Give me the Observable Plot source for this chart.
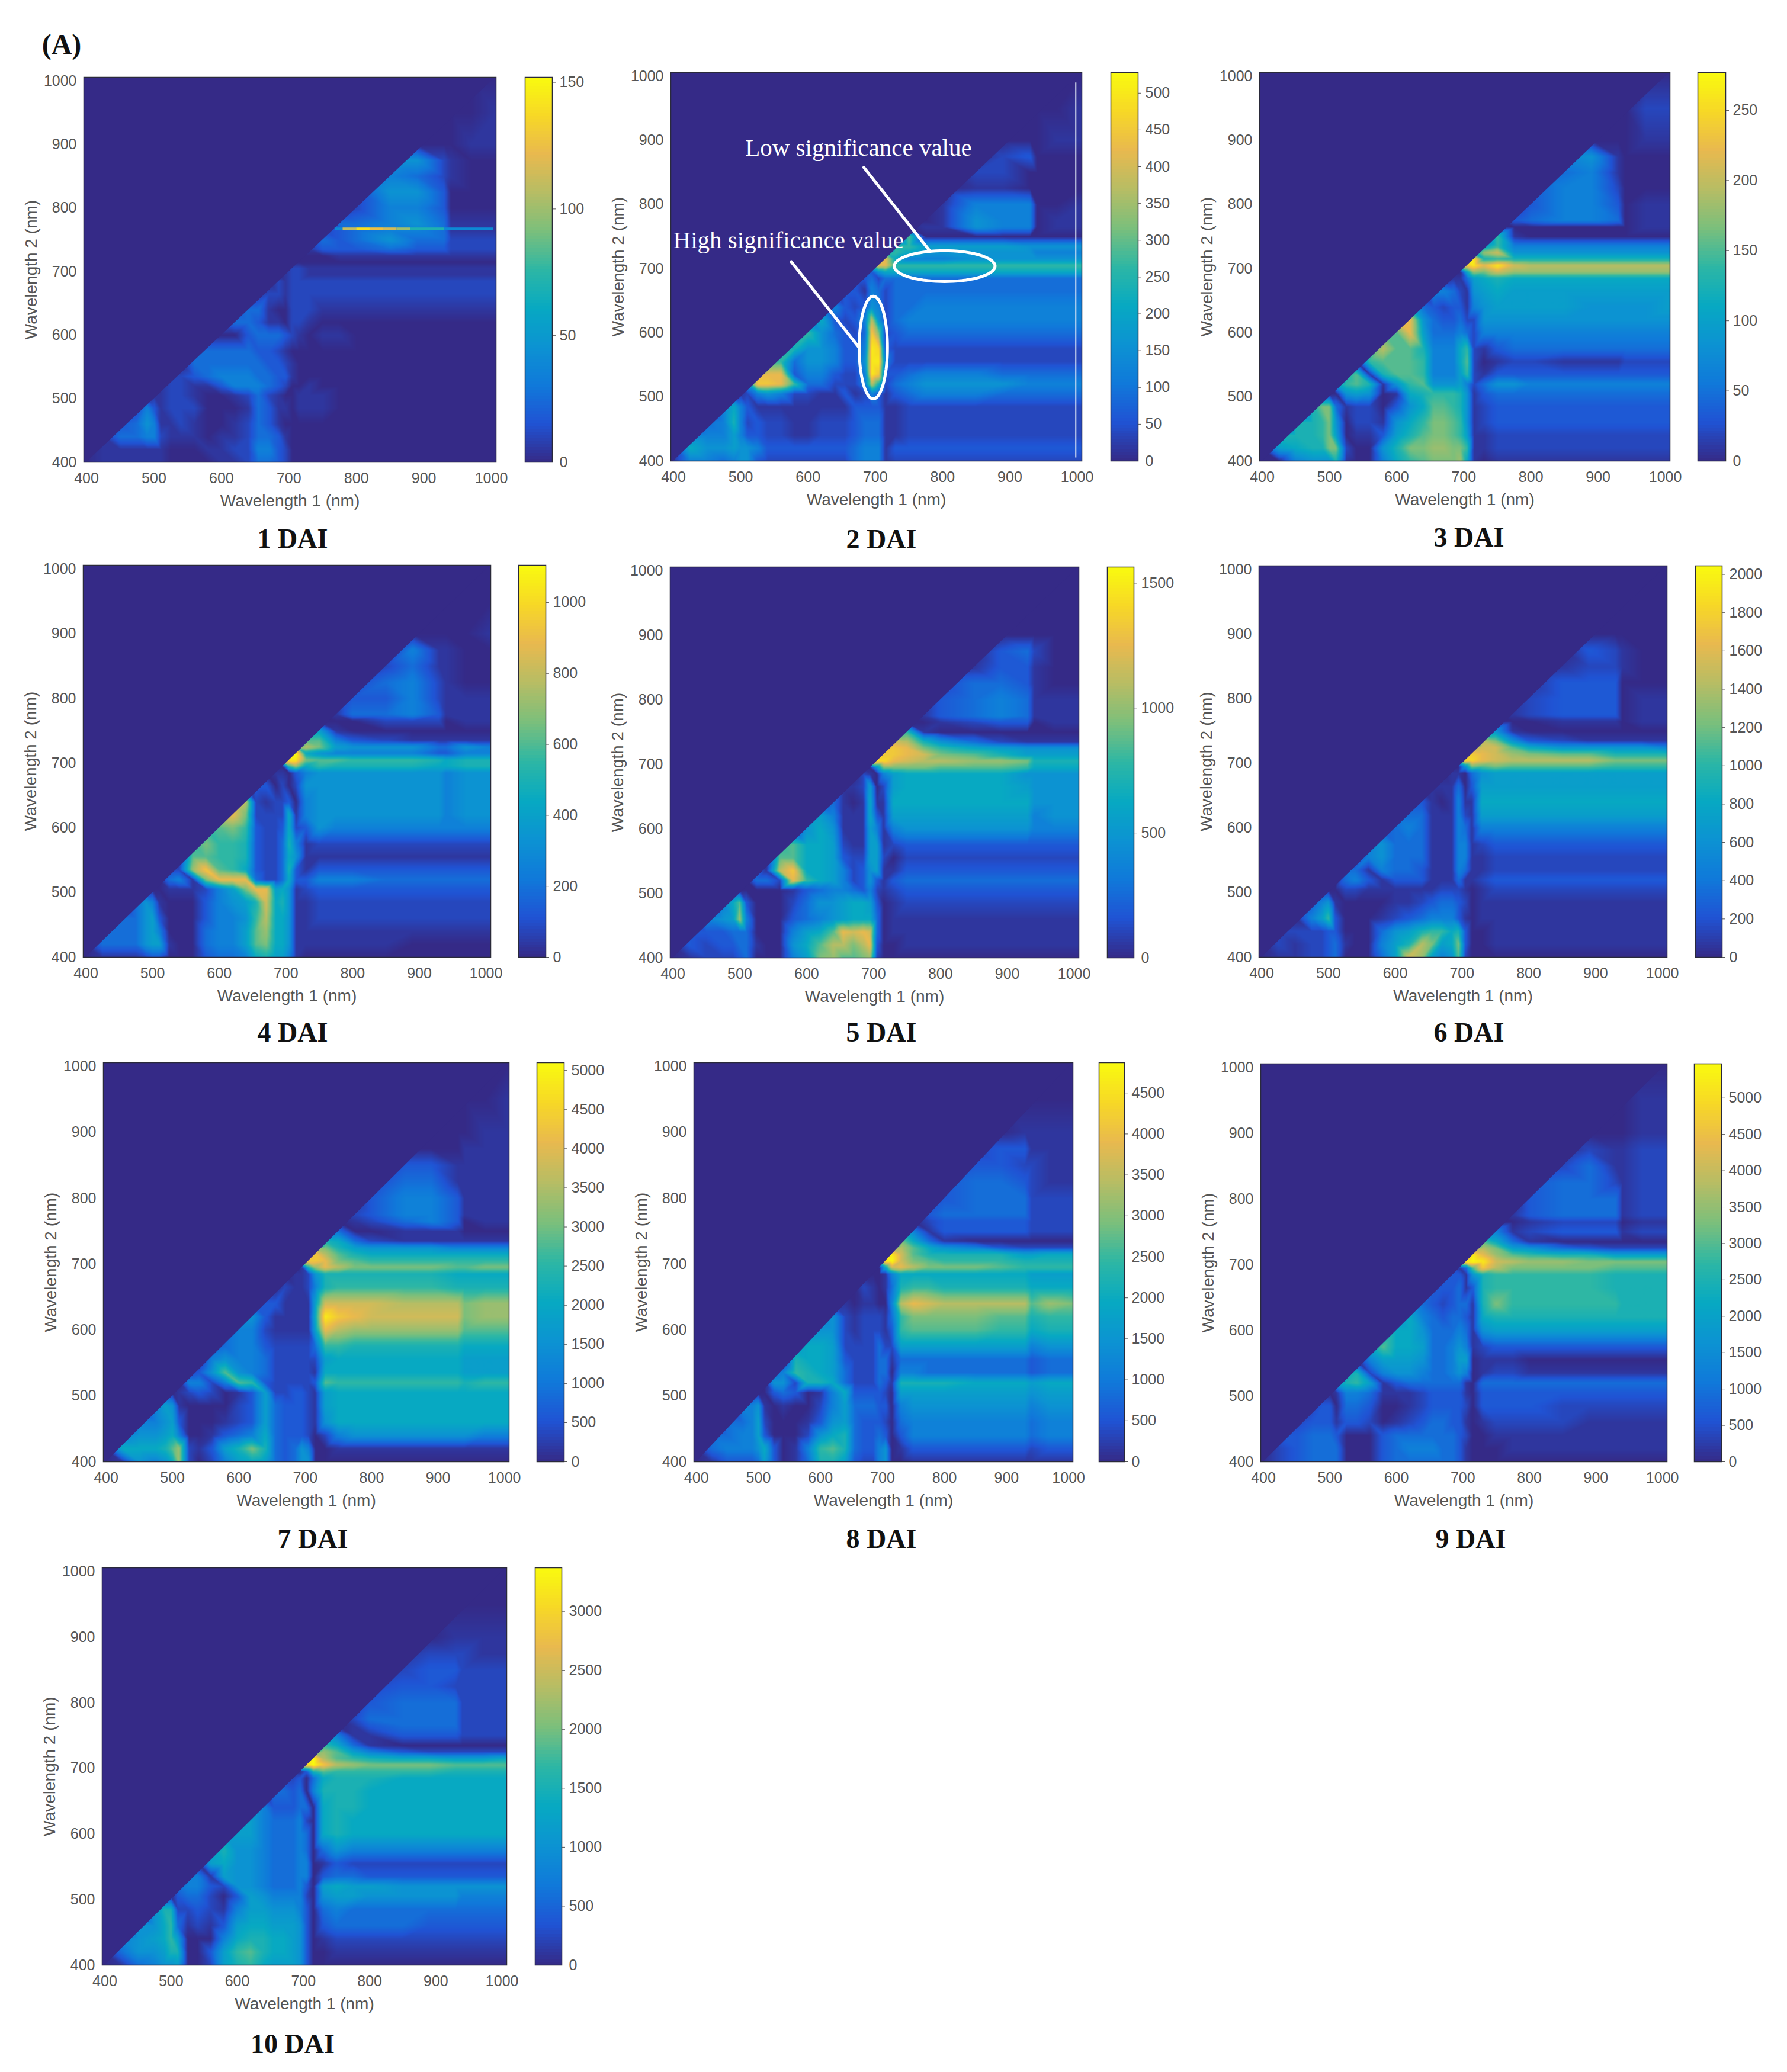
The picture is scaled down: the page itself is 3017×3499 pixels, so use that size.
<!DOCTYPE html>
<html><head><meta charset="utf-8">
<script src="https://cdn.jsdelivr.net/npm/d3@7"></script>
<script src="https://cdn.jsdelivr.net/npm/@observablehq/plot@0.6"></script>
<style>
html,body{margin:0;background:#fff}
#page{position:relative;width:3017px;height:3499px;overflow:hidden;background:#fff}
#page svg{position:absolute;overflow:visible;background:transparent}
.ttl{position:absolute;font-family:"Liberation Serif",serif;font-weight:bold;color:#111;font-size:46px;transform:translate(-50%,-50%);white-space:nowrap}
</style></head><body><div id="page"></div>
<script>
// sampled wavelength grid of the significance maps
const xNodes=[396,425,450,475,490,500,510,525,540,560,580,600,620,640,655,670,685,695,705,715,730,750,775,800,850,890,930,940,970,1007];
const yNodes=[1006,950,900,875,850,825,800,775,765,750,735,725,715,705,695,685,665,640,620,600,575,555,535,520,505,485,460,440,420,400];
// one character per node: its share of that panel's colour-bar maximum
const LEVELS="0123456789abcdefghijk";
const LEVEL_SHARE=[0,.03,.07,.115,.17,.23,.3,.35,.4,.45,.5,.55,.6,.65,.7,.75,.8,.85,.9,.95,1];
const grid1=["","001","00011","662100","3542100","2663000","12553000","144564111","234554111","2434644222","1333433222","00011111111","0","1221111111111","01221111111111","021222222222222","1221222222222222","344100222111111111","3443110221000000000","34443210110000000","444443321000000000000","0444444332100000000000","22345554433100000000000","122113555432001000000000","1122100124210011100000000","253122200014311011100000000","3465112100124310000000000000","14455211101124431000000000000","011111100011225532000000000000","011111100001124432000000000000"];
const grid2=["","001","00011","023000","0220000","0110000","01555001","001655011","011655011","2b00000000","aa77776666","aa866666555","fg8555666666","bggaaaaaaaaaa","33688888888888","334244444444444","3315424444444444","553236524455555555","583235e624555555555","8a64324hc23444444444","99665335ji32222222222","aa4665336jj52222222222","ggg3553225jh33455544444","6hhga442225e924566665555","1256522113125313455544444","585311111111333311222222222","4595232211222344411222222222","55575332211222344411222222222","086676653333333455513333333333","055456632222222455512222222222"];
const grid3=["","022","00011","561000","3451000","3552000","13553011","034554011","000000011","3a10000000","7a55555555","7df66666666","jj9a99999999","fhjgjfeeeeeee","008dcfdddddddd","011478988888888","5542167877777777","843233156777766667","gg64334226666666666","bbg74445425555555555","aebb95558a21344444444","0abbba5558b20122111222","9b19bba5557a21333333333","7ab916ab6667524665555555","006760189aaa9613444444444","9cc41220368bba9612333333333","99ac6022168accba612333333333","999ac7011379bccba711222222222","07899cc20069ccddcca11222222222","005666910058abcccd810111111111"];
const grid4=["","","00001","051100","1241100","2452100","13352111","014453111","000222011","5710000000","bb53211111","cec76664465","jk8655553355","ijjcbbaaa9899","00ad8a99998899","011035666666566","3302026666666566","ge2122305666666566","cgc2222815666666566","abca3223823655555555","acaa93224951222222222","0bbaa93224861111111111","22dhba83224931333333333","0451cggg4224833555444444","00111257cgg78612333333333","465100035679f89611222222222","446730003556ae88611222222222","44467500045 57bd88611111111111".replace(" ","").slice(-29),"044467710045 57bc88611111100000".replace(" ","").slice(-30),"011123300034458977510000000000"];
const grid5=["","","","034200","0133100","2443100","13454111","013454111","001233011","9a10000000","fe96421111","ghgca876666","hhhgfcb97777","iiigfeeddc999","006ccccbbba888","021057888886666","1127027888887666","341018118888888666","6751118317777777566","16861117515666666555","ab8872117712333333333","0bb8873227720222222222","31eh8875236711333333333","0442ga875236313444444444","0000013455435212333333333","58b300024667887301222222222","567d500034567888401111111111","333444000578bgfgf401111111111","032334410068beeceg300111111111","012223400057cdbbcd200000000000"];
const grid6=["","","","032100","0122100","1333000","12333011","012333011","000111011","6610000000","ec63211111","effb8666665","hhgfdcbb9999","giigfeeeecccc","006cbcbbbbaaaa","011046777777777","1114037777777777","231015118888888888","4441115217777777777","34541115415555555555","564441115512333333333","0564441115511222222222","44154431115411222222222","045313331114112333333333","0022111111222101222222222","356100001123443201111111111","057a300012345553101111111111","2222330004679aa89300111111111","021223410057 9ec78c300111111111".replace(" ","").slice(-30),"011223400047fd756b200000000000"];
const grid7=["","001","00011","000111","0331111","2441111","13553111","023553111","012453011","4400111000","9842111111","dc976665555","gheb98888888","ghhgcbaaaaaaa","019dgeccccbbcc","011269999998888","0211259aaaaa9999","33311117ffffeeecdd","463111118jhgffffcdd","3552111117gedddddbbb","34553222224aa99999888","0565542222227888888777","236b6542222218888888777","05525ba3222223baaaaaa9aa","0123201372233217888888888","576100002374333217888888888","5567300012374333216888888888","56678500134584333202566666655","08889bd21379c94346500111111111","016568d2025787434660 0000000000".replace(" ","").slice(-30)];
const grid8=["","","01111","233111","2332211","3443211","23444222","034444222","023333222","4513333222","c841000000","deb86532222","hjfb99997788","hjkfcbaaa9999","008fgecccbaaaa","000158888888777","0210149aa9999888","11011005egfeeeebdc","562122214accccbb9aa","5662122213abbbbaa899","788722224227777777566","0988732224414444444344","45a98742224405544444344","066299842224319999888788","0034301583333207777777677","556101002574443305666666566","4457200013674333204555555455","44557300026894334303555555455","04555683015ab94335601333333233","013334730149973225600111111111"];
const grid9=["","011","00011","021122","1241122","3442122","03444122","013444122","001222011","5512333122","b841000000","eec76432222","gjgdba997777","ijkjfeddccccc","214bheccccbbbb","333169aaaaa9999","3334139aaaaa9999","643234419caaaaa999","6854344318999999999","68864445416777777777","8b8874456512333333333","0577764457701110000000","89256654456501221111111","79a713444444104444444444","0155411123333103333333333","233044300123333203333222222","2333133201234433101222211111","33444300034444443200111111111","023444400034555443100011111111","023444400034444443100000000000"];
const grid10=["","","01111","122211","1233222","2332222","13444222","024444222","013444222","5511333222","a841000000","cdb75322222","hkeba9887778","gikhedcccbbbb","0039baaaaa9999","223048999888888","4434059998888888","553334408998888888","7754445208988888888","77754445408988888888","796654445404655555555","0786654445501322222222","55176654445503443333333","455326654445307877666666","0344203765555206776666555","699223215776665304544444444","668a412137887776303444433333","56 78a700058998876301222222222".replace(" ","").slice(-29),"046679900 37ab98876300111111111".replace(" ","").slice(-30),"014566700279a87776300000000000"];
const grids=[grid1,grid2,grid3,grid4,grid5,grid6,grid7,grid8,grid9,grid10];
const titles=["1 DAI","2 DAI","3 DAI","4 DAI","5 DAI","6 DAI","7 DAI","8 DAI","9 DAI","10 DAI"];
const barMax=[152,528,277,1105,1565,2045,5100,4870,5470,3370];
const barTicks=[[0,50,100,150],[0,50,100,150,200,250,300,350,400,450,500],[0,50,100,150,200,250],[0,200,400,600,800,1000],[0,500,1000,1500],[0,200,400,600,800,1000,1200,1400,1600,1800,2000],[0,500,1000,1500,2000,2500,3000,3500,4000,4500,5000],[0,500,1000,1500,2000,2500,3000,3500,4000,4500],[0,500,1000,1500,2000,2500,3000,3500,4000,4500,5000],[0,500,1000,1500,2000,2500,3000]];
const axisTicks=[400,500,600,700,800,900,1000];
// thin bright line of panel 1
const line1X=[768,780,800,820,840,860,880,930,1003];
const line1V=[40,110,140,125,115,100,70,40];
const parula=["#352a87","#2053d4","#1079da","#0c93d2","#07a9c2","#2eb7a4","#7cbf7b","#b7bd64","#e9b94e","#f7d826","#f9fb0e"];
const parulaI=d3.piecewise(d3.interpolateRgb,parula);

// page layout: frame left,right,top,bottom; colour bar left,right; title x,y
const layout=[
[141,837,130,780,886,932,494,909],
[1132,1826,122,778,1875,1921,1488,910],
[2126,2819,122,778,2866,2913,2480,907],
[140,828,954,1616,875,921,494,1743],
[1131,1821,957,1617,1869,1914,1488,1743],
[2125,2814,955,1616,2862,2907,2480,1743],
[174,859,1794,2468,906,952,528,2598],
[1171,1811,1794,2468,1855,1898,1488,2598],
[2128,2814,1796,2468,2860,2906,2483,2598],
[172,855,2647,3318,903,948,494,3451]];

const page=document.getElementById("page");
const textStyle={fontFamily:'"Liberation Sans",Arial,sans-serif',color:"#555",background:"transparent"};
function cells(grid,max){
  const out=[];
  grid.forEach((row,r)=>{
    const s=row.slice(-30).padStart(30,"0");
    [...s].forEach((c,i)=>out.push({x:xNodes[i],y:yNodes[r],v:LEVEL_SHARE[LEVELS.indexOf(c)]*max}));
  });
  return out;
}
function ellipse(cx,cy,rx,ry){return d3.range(0,73).map(i=>({x:cx+rx*Math.cos(i*Math.PI/36),y:cy+ry*Math.sin(i*Math.PI/36)}));}
function place(el,left,top){el.style.left=left+"px";el.style.top=top+"px";page.appendChild(el);}

layout.forEach((f,i)=>{
  const [l,r,t,b,cl,cr,tx,ty]=f, max=barMax[i];
  const ml=130,mr=20,mt=20,mb=100;
  const color={type:"linear",domain:[0,max],interpolate:parulaI,clamp:true};
  const extras=[];
  if(i===0){
    const segs=line1V.map((v,k)=>({a:line1X[k],b:line1X[k+1],v}));
    extras.push(Plot.rect(segs,{x1:"a",x2:"b",y1:765,y2:769,fill:"v"}));
  }
  if(i===1){
    extras.push(Plot.ruleX([998],{y1:405,y2:990,stroke:"#dfe6f5",strokeWidth:2}));
    extras.push(Plot.line(ellipse(803,704,75,24),{x:"x",y:"y",stroke:"white",strokeWidth:5}));
    extras.push(Plot.line(ellipse(697,577,21,80),{x:"x",y:"y",stroke:"white",strokeWidth:5}));
    extras.push(Plot.line([{x:683,y:858},{x:780,y:729}],{x:"x",y:"y",stroke:"white",strokeWidth:5}));
    extras.push(Plot.line([{x:575,y:711},{x:675,y:578}],{x:"x",y:"y",stroke:"white",strokeWidth:5}));
    extras.push(Plot.text(["Low significance value"],{x:675,y:888,text:d=>d,fill:"white",fontSize:41,fontFamily:'"Liberation Serif",serif'}));
    extras.push(Plot.text(["High significance value"],{x:571,y:744,text:d=>d,fill:"white",fontSize:41,fontFamily:'"Liberation Serif",serif'}));
  }
  const plot=Plot.plot({
    width:r-l+ml+mr,height:b-t+mt+mb,marginLeft:ml,marginRight:mr,marginTop:mt,marginBottom:mb,
    x:{domain:[396,1007]},y:{domain:[400,1006]},color,style:textStyle,
    marks:[
      Plot.raster(cells(grids[i],max),{x:"x",y:"y",fill:"v",x1:396,x2:1007,y1:400,y2:1006,interpolate:"barycentric",pixelSize:2}),
      Plot.area([396,1007],{x1:d=>d,y1:d=>d,y2:()=>1006,fill:parula[0],clip:true}),
      ...extras,
      Plot.frame({stroke:"#2a2a3a",strokeWidth:1.5}),
      Plot.axisX({ticks:axisTicks,tickFormat:d=>String(d),tickSize:0,tickPadding:18,fontSize:25,label:"Wavelength 1 (nm)",labelAnchor:"center",labelArrow:"none",labelOffset:74}),
      Plot.axisY({ticks:axisTicks,tickFormat:d=>String(d),tickSize:0,tickPadding:12,fontSize:25,label:"Wavelength 2 (nm)",labelAnchor:"center",labelArrow:"none",labelOffset:99})
    ]});
  plot.querySelectorAll('[aria-label$="axis label"] text').forEach(n=>n.style.fontSize="28px");
  place(plot,l-ml,t-mt);

  const mlb=4,mrb=90,n=128;
  const steps=d3.range(n).map(k=>({a:k/n*max,b:(k+1)/n*max,v:(k+.5)/n*max}));
  const bar=Plot.plot({
    width:cr-cl+mlb+mrb,height:b-t+mt+mb,marginLeft:mlb,marginRight:mrb,marginTop:mt,marginBottom:mb,
    x:{domain:[0,1],axis:null},y:{domain:[0,max]},color,style:textStyle,
    marks:[
      Plot.rect(steps,{x1:0,x2:1,y1:"a",y2:"b",fill:"v",shapeRendering:"crispEdges"}),
      Plot.frame({stroke:"#2a2a3a",strokeWidth:1.5}),
      Plot.axisY({anchor:"right",ticks:barTicks[i],tickSize:5,tickPadding:7,fontSize:25,label:null,tickFormat:d=>String(d)})
    ]});
  place(bar,cl-mlb,t-mt);

  const h=document.createElement("div");h.className="ttl";h.textContent=titles[i];
  place(h,tx,ty);
});
const tag=document.createElement("div");tag.className="ttl";tag.textContent="(A)";tag.style.fontSize="48px";
place(tag,104,74);
</script></body></html>
